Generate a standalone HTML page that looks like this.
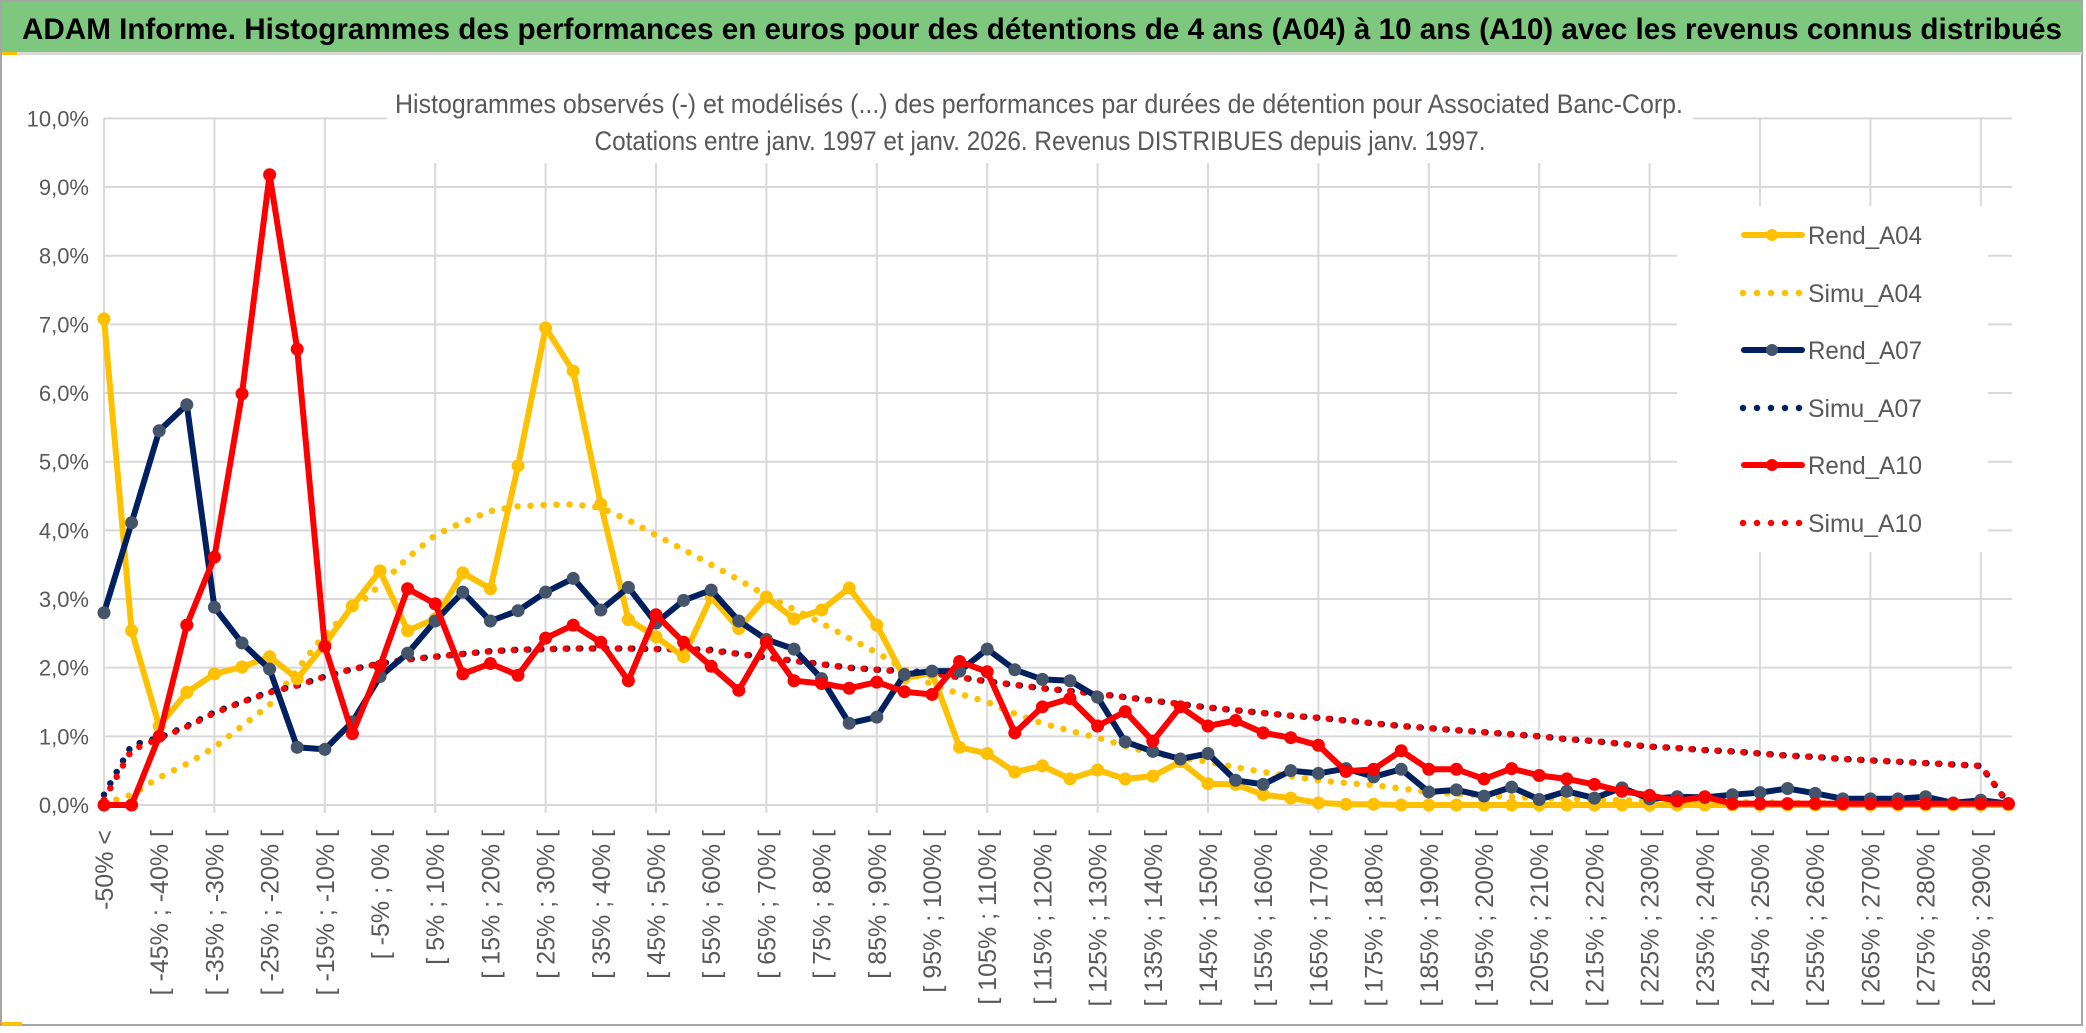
<!DOCTYPE html>
<html><head><meta charset="utf-8">
<style>
html,body{margin:0;padding:0;background:#fff;}
svg{display:block;font-family:"Liberation Sans",sans-serif;}
</style></head>
<body>
<svg id="chart" width="2086" height="1033" viewBox="0 0 2086 1033" xmlns="http://www.w3.org/2000/svg">
  <rect x="0" y="0" width="2086" height="1033" fill="#fff"/>
  <rect x="1" y="1" width="2081" height="1024" fill="none" stroke="#a6a6a6" stroke-width="2"/>
  <rect x="2" y="2" width="2080" height="50" fill="#7dc87e"/>
  <rect x="2" y="52" width="2080" height="3" fill="#d9d9d9"/>
  <rect x="2" y="52" width="15" height="3" fill="#ffc000"/>
  <text x="22" y="39" font-size="30" font-weight="bold" fill="#000" textLength="2040" lengthAdjust="spacingAndGlyphs">ADAM Informe. Histogrammes des performances en euros pour des détentions de 4 ans (A04) à 10 ans (A10) avec les revenus connus distribués</text>
  <rect x="2" y="1022" width="20" height="4" fill="#ffc000"/>
  <g id="grid"></g>
  <rect x="387" y="82" width="1306" height="81" fill="#fff"/>
  <text x="1039" y="113" font-size="27" fill="#595959" text-anchor="middle" textLength="1288" lengthAdjust="spacingAndGlyphs">Histogrammes observés (-) et modélisés (...) des performances par durées de détention pour Associated Banc-Corp.</text>
  <text x="1040" y="150" font-size="27" fill="#595959" text-anchor="middle" textLength="891" lengthAdjust="spacingAndGlyphs">Cotations entre janv. 1997 et janv. 2026. Revenus DISTRIBUES depuis janv. 1997.</text>
  <g id="yaxis"></g>
  <g id="xaxis"></g>
  <g id="series"></g>
  <g id="legend"></g>
</svg>
<script>
const rendA04 = [7.08,2.54,1.15,1.64,1.91,2.01,2.16,1.84,2.34,2.9, 3.41,2.54,2.71,3.38,3.15,4.94,6.95,6.32,4.38,2.70, 2.45,2.16,3.03,2.57,3.03,2.71,2.84,3.16,2.62,1.85, 1.92,0.84,0.75,0.48,0.57,0.38,0.51,0.38,0.42,0.63, 0.31,0.30,0.15,0.10,0.03,0.01,0.01,0,0,0, 0,0,0,0,0,0,0,0,0,0, 0,0,0,0,0,0,0,0,0,0];
const simuA04 = [0.02,0.15,0.4,0.6,0.84,1.15,1.46,1.97,2.49,2.85, 3.2,3.6,3.93,4.12,4.28,4.35,4.37,4.38,4.33,4.15, 3.93,3.72,3.5,3.28,3.05,2.85,2.65,2.43,2.22,1.98, 1.75,1.62,1.5,1.33,1.19,1.08,0.98,0.86,0.75,0.69, 0.63,0.55,0.48,0.42,0.36,0.32,0.29,0.24,0.19,0.16, 0.14,0.12,0.1,0.09,0.08,0.07,0.06,0.05,0.05,0.04, 0.04,0.03,0.03,0.03,0.02,0.02,0.02,0.02,0.02,0.01];
const rendA07 = [2.80,4.11,5.45,5.83,2.88,2.36,1.98,0.84,0.81,1.21, 1.87,2.21,2.68,3.10,2.68,2.83,3.10,3.30,2.84,3.17, 2.65,2.98,3.13,2.68,2.41,2.27,1.84,1.19,1.28,1.90, 1.95,1.95,2.27,1.97,1.83,1.81,1.57,0.92,0.78,0.67, 0.75,0.36,0.30,0.50,0.46,0.53,0.41,0.52,0.19,0.22, 0.13,0.26,0.08,0.20,0.10,0.25,0.09,0.12,0.11,0.15, 0.18,0.24,0.17,0.09,0.09,0.09,0.12,0.03,0.07,0.02];
const simuA07 = [0.15,0.87,0.98,1.15,1.35,1.5,1.65,1.74,1.87,1.98, 2.06,2.12,2.16,2.2,2.24,2.26,2.27,2.28,2.28,2.28, 2.27,2.27,2.26,2.2,2.15,2.1,2.05,2.0,1.97,1.95, 1.93,1.86,1.8,1.75,1.7,1.66,1.62,1.57,1.52,1.47, 1.42,1.38,1.34,1.3,1.27,1.23,1.19,1.15,1.12,1.09, 1.06,1.03,1.0,0.96,0.93,0.89,0.85,0.83,0.8,0.78, 0.75,0.72,0.7,0.67,0.65,0.63,0.61,0.59,0.57,0.02];
const rendA10 = [0,0,1.0,2.62,3.61,5.99,9.18,6.64,2.31,1.04, 2.02,3.15,2.93,1.91,2.06,1.89,2.43,2.62,2.37,1.81, 2.77,2.37,2.02,1.67,2.37,1.81,1.77,1.70,1.79,1.65, 1.61,2.09,1.94,1.05,1.43,1.55,1.15,1.36,0.93,1.43, 1.15,1.23,1.05,0.98,0.87,0.49,0.52,0.79,0.52,0.52, 0.38,0.53,0.43,0.38,0.30,0.20,0.14,0.06,0.12,0.02, 0.02,0.02,0.02,0.02,0.02,0.02,0.02,0.02,0.02,0.02];
const simuA10 = [0.08,0.8,0.97,1.14,1.34,1.5,1.64,1.74,1.87,1.98, 2.06,2.12,2.16,2.2,2.24,2.26,2.27,2.28,2.28,2.28, 2.27,2.27,2.25,2.2,2.15,2.1,2.05,2.0,1.97,1.94, 1.92,1.86,1.8,1.75,1.7,1.66,1.62,1.57,1.52,1.47, 1.42,1.38,1.34,1.3,1.27,1.23,1.19,1.15,1.12,1.09, 1.06,1.03,1.0,0.96,0.93,0.89,0.85,0.83,0.8,0.78, 0.75,0.72,0.7,0.67,0.65,0.63,0.61,0.59,0.57,0.02];
const yTicks = [0,1,2,3,4,5,6,7,8,9,10];
const yTickLabels = ["0,0%","1,0%","2,0%","3,0%","4,0%","5,0%","6,0%","7,0%","8,0%","9,0%","10,0%"];
const categories = ["-50% <"];
for (let a = -50; a < 295; a += 5) categories.push("[ " + a + "% ; " + (a + 5) + "% [");

const NS = "http://www.w3.org/2000/svg";
const X0 = 104, STEP = 27.6, Y0 = 805, YPER = 68.66, XR = 2012;
function xs(i){ return X0 + i * STEP; }
function ys(v){ return Y0 - v * YPER; }
function mk(tag, attrs, parent){
  const e = document.createElementNS(NS, tag);
  for (const k in attrs) e.setAttribute(k, attrs[k]);
  parent.appendChild(e);
  return e;
}
const grid = document.getElementById('grid');
yTicks.forEach((t, k) => {
  const l = mk('line', {x1: X0, x2: XR, y1: ys(t), y2: ys(t), stroke: '#d9d9d9', 'stroke-width': 2}, grid);
  
  
});
for (let i = 0; i < categories.length; i += 4) {
  const l = mk('line', {x1: xs(i), x2: xs(i), y1: ys(10), y2: ys(0) + 8, stroke: '#d9d9d9', 'stroke-width': 2}, grid);
  
  
}
const yaxis = document.getElementById('yaxis');
yTicks.forEach((t, k) => {
  const tx = mk('text', {x: 89, y: ys(t) + 8, 'font-size': 22, fill: '#595959', 'text-anchor': 'end'}, yaxis);
  tx.textContent = yTickLabels[k];
  
  
});
const xaxis = document.getElementById('xaxis');
categories.forEach((c, i) => {
  if (i % 2) return;
  const tx = mk('text', {transform: 'translate(' + (xs(i) + 9) + ',830) rotate(-90)', 'font-size': 25, fill: '#595959', 'text-anchor': 'end'}, xaxis);
  tx.textContent = c;
  
  
});
const seriesG = document.getElementById('series');
function pts(arr){ return arr.map((v, i) => xs(i).toFixed(1) + ',' + ys(v).toFixed(1)).join(' '); }
function dotted(arr, color, name){
  const p = mk('polyline', {points: pts(arr), fill: 'none', stroke: color, 'stroke-width': 6.5, 'stroke-linecap': 'round', 'stroke-dasharray': '0 13'}, seriesG);
  
  
}
function solid(arr, color, mcolor, name){
  const g = mk('g', {}, seriesG);
  
  
  const p = mk('polyline', {points: pts(arr), fill: 'none', stroke: color, 'stroke-width': 6, 'stroke-linejoin': 'round'}, g);
  
  
  arr.forEach((v, i) => {
    const c = mk('circle', {cx: xs(i), cy: ys(v), r: 6.5, fill: mcolor}, g);
    
    
  });
}
dotted(simuA04, '#ffc000', 'simu-a04');
dotted(simuA07, '#002060', 'simu-a07');
dotted(simuA10, '#ff0000', 'simu-a10');
solid(rendA04, '#ffc000', '#ffc000', 'rend-a04');
solid(rendA07, '#002060', '#44546a', 'rend-a07');
solid(rendA10, '#ff0000', '#ff0000', 'rend-a10');

const legend = document.getElementById('legend');
const lbg = mk('rect', {x: 1677, y: 206, width: 311, height: 346, fill: '#fff'}, legend);


const legNames = ['Rend_A04','Simu_A04','Rend_A07','Simu_A07','Rend_A10','Simu_A10'];
const legColors = ['#ffc000','#ffc000','#002060','#002060','#ff0000','#ff0000'];
const legMark = ['#ffc000',null,'#44546a',null,'#ff0000',null];
const legY = [235,293,350,408,465,523];
legNames.forEach((n, k) => {
  const g = mk('g', {}, legend);
  
  
  if (legMark[k]) {
    mk('line', {x1: 1744, x2: 1802, y1: legY[k], y2: legY[k], stroke: legColors[k], 'stroke-width': 6, 'stroke-linecap': 'round'}, g);
    mk('circle', {cx: 1772, cy: legY[k], r: 6, fill: legMark[k]}, g);
  } else {
    mk('line', {x1: 1743, x2: 1800, y1: legY[k], y2: legY[k], stroke: legColors[k], 'stroke-width': 6.5, 'stroke-linecap': 'round', 'stroke-dasharray': '0 14'}, g);
  }
  const t = mk('text', {x: 1808, y: legY[k] + 9, 'font-size': 25, fill: '#595959', textLength: 114, lengthAdjust: 'spacingAndGlyphs'}, g);
  t.textContent = n;
});
</script>
</body></html>
